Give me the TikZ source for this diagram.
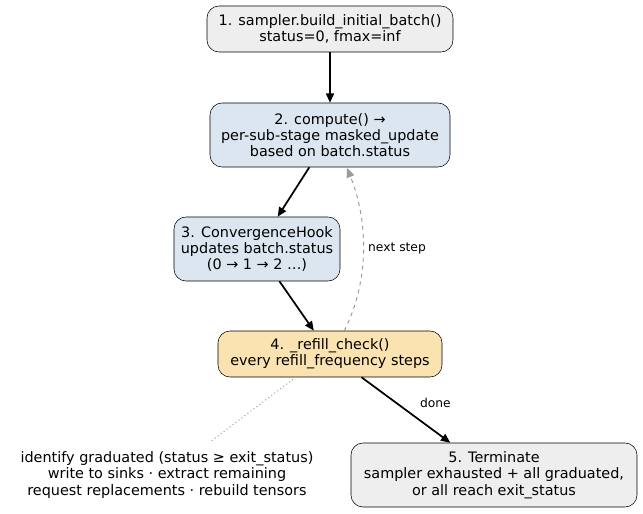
\documentclass[tikz,border=0pt]{standalone}
\usepackage{fontspec}
\setmainfont{DejaVu Sans}
\usetikzlibrary{arrows.meta}
\definecolor{greyfill}{HTML}{EEEEEE}
\definecolor{bluefill}{HTML}{DCE6F0}
\definecolor{orangefill}{HTML}{FAE3B0}
\begin{document}
\begin{tikzpicture}[x=0.75pt, y=-0.75pt, >={Triangle[length=7pt,width=6pt]},
  box/.style={draw, rounded corners=9pt, align=center, font=\fontsize{10.8}{12.2}\selectfont, inner sep=0pt},
  flow/.style={->, line width=1.3pt},
  lab/.style={font=\fontsize{9.2}{10}\selectfont}]
\useasboundingbox (0,0) rectangle (643,514);
\node[box, fill=greyfill, minimum width=246*0.75pt, minimum height=46*0.75pt] (init) at (330,29)
  {1. sampler.build\_initial\_batch()\\status=0, fmax=inf};
\node[box, fill=bluefill, minimum width=240*0.75pt, minimum height=64*0.75pt] (compute) at (330,135)
  {2. compute() →\\per-sub-stage masked\_update\\based on batch.status};
\node[box, fill=bluefill, minimum width=166*0.75pt, minimum height=64*0.75pt] (hook) at (257,249)
  {3. ConvergenceHook\\updates batch.status\\(0 → 1 → 2 …)};
\node[box, fill=orangefill, minimum width=224*0.75pt, minimum height=46*0.75pt] (refill) at (330,354)
  {4. \_refill\_check()\\every refill\_frequency steps};
\node[box, fill=greyfill, minimum width=286*0.75pt, minimum height=64*0.75pt] (done) at (494,475)
  {5. Terminate\\sampler exhausted + all graduated,\\or all reach exit\_status};
\node[align=center, font=\fontsize{10.8}{12.2}\selectfont] (note) at (167,475)
  {identify graduated (status ≥ exit\_status)\\write to sinks · extract remaining\\request replacements · rebuild tensors};
\coordinate (noteend) at (210,442);
\draw[flow] (init) -- (compute);
\draw[flow] (compute) -- (hook);
\draw[flow] (hook) -- (refill);
\draw[flow] (refill) -- node[lab, right, pos=0.45, xshift=10pt, yshift=3pt]{done} (done);
\draw[->, gray!80, dashed, line width=0.7pt] (refill.north east) ++(-98,0)
  .. controls (370,280) and (368,220) .. (347,168);
\node[lab] (nextlab) at (397,248) {next step};
\draw[gray!70, dotted, line width=0.8pt] (296,377) -- (noteend);
\end{tikzpicture}
\end{document}
